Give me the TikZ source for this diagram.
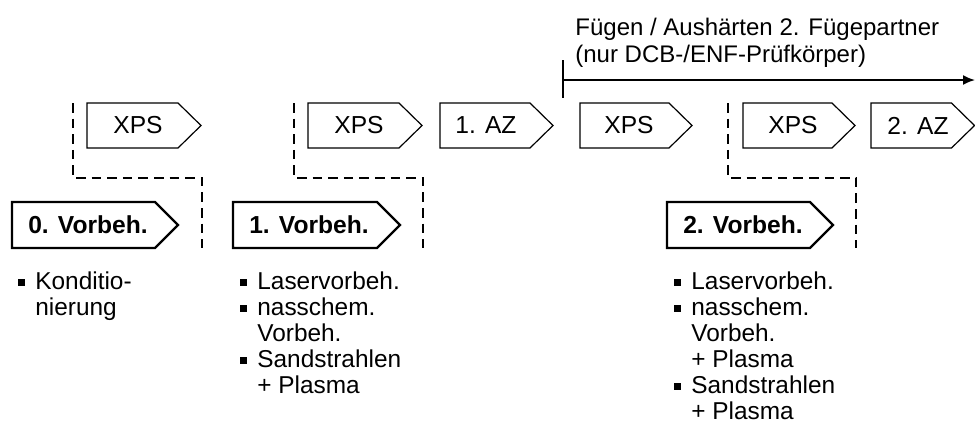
\documentclass[tikz,border=0pt]{standalone}
\usepackage{fontspec}
\setmainfont{Liberation Sans}
\usetikzlibrary{arrows.meta}

% small square bullet
\newcommand\bul{\rule[1.6pt]{3.2pt}{3.2pt}}

% pentagon step tag: name, left, top, width, height, label x, kind, label
\newcommand\tagbox[8]{%
  \draw[#7box] (#2,#3) -- ({#2+#4-23},#3) -- ({#2+#4},{#3+#5/2})
    -- ({#2+#4-23},{#3+#5}) -- (#2,{#3+#5}) -- cycle;
  \node[#7label] (#1) at (#6,{#3+#5/2}) {#8};
}

\tikzset{
  procbox/.style={draw=black, line width=0.6pt, fill=white, line join=miter},
  prepbox/.style={draw=black, line width=1.1pt, fill=white, line join=miter},
  proclabel/.style={font=\fontsize{12.3}{13.5}\selectfont, inner sep=0pt},
  preplabel/.style={font=\fontsize{12.3}{13.5}\selectfont\bfseries, inner sep=0pt},
  separator/.style={draw=black, line width=0.9pt, dash pattern=on 4.8pt off 3pt},
  listtext/.style={font=\fontsize{12.2}{13}\selectfont, inner sep=0pt, anchor=base west},
  flow/.style={draw=black, line width=0.9pt}
}

\begin{document}
\begin{tikzpicture}[x=0.5pt, y=-0.5pt]
  \useasboundingbox (0,0) rectangle (975,435);

  % separators between the treatment stages
  \draw[separator] (73,103) -- (73,178) -- (202,178) -- (202,248);
  \draw[separator] (294,103) -- (294,178) -- (423,178) -- (423,248);
  \draw[separator] (728,103) -- (728,178) -- (856,178) -- (856,248);

  % process steps (upper row)
  \tagbox{xps1}{87}{103}{114}{45}{138}{proc}{XPS}
  \tagbox{xps2}{308}{103}{114}{45}{359}{proc}{XPS}
  \tagbox{az1}{440}{103}{113}{45}{486}{proc}{1. AZ}
  \tagbox{xps3}{580}{103}{112}{45}{629}{proc}{XPS}
  \tagbox{xps4}{743}{103}{112}{45}{793}{proc}{XPS}
  \tagbox{az2}{871}{103}{103.5}{45}{918}{proc}{2. AZ}

  % pretreatment steps (lower row)
  \tagbox{vb0}{12}{202}{166}{46}{88}{prep}{0. Vorbeh.}
  \tagbox{vb1}{233}{202}{167}{46}{309}{prep}{1. Vorbeh.}
  \tagbox{vb2}{667}{202}{166}{46}{743}{prep}{2. Vorbeh.}

  % bonding / curing of the second adherend
  \coordinate (fstart) at (563,80);
  \coordinate (fend) at (975,80);
  \coordinate (tickt) at (563,60);
  \coordinate (tickb) at (563,98);
  \draw[flow] (tickt) -- (tickb);
  \draw[flow, -{Latex[length=6pt,width=5pt]}] (fstart) -- (fend);
  \node[listtext, font=\fontsize{12}{13.5}\selectfont] (title) at (575,35)
    {\begin{tabular}[t]{@{}l@{}}Fügen / Aushärten 2. Fügepartner\\(nur DCB-/ENF-Prüfkörper)\end{tabular}};

  % pretreatment methods
  \node[listtext] (list0) at (18,289)
    {\begin{tabular}[t]{@{}l@{\hspace{5.3pt}}l@{}}\bul & Konditio-\\ & nierung\end{tabular}};
  \node[listtext] (list1) at (240,289)
    {\begin{tabular}[t]{@{}l@{\hspace{5.3pt}}l@{}}\bul & Laservorbeh.\\ \bul & nasschem.\\ & Vorbeh.\\ \bul & Sandstrahlen\\ & + Plasma\end{tabular}};
  \node[listtext] (list2) at (674,289)
    {\begin{tabular}[t]{@{}l@{\hspace{5.3pt}}l@{}}\bul & Laservorbeh.\\ \bul & nasschem.\\ & Vorbeh.\\ & + Plasma\\ \bul & Sandstrahlen\\ & + Plasma\end{tabular}};
\end{tikzpicture}
\end{document}
